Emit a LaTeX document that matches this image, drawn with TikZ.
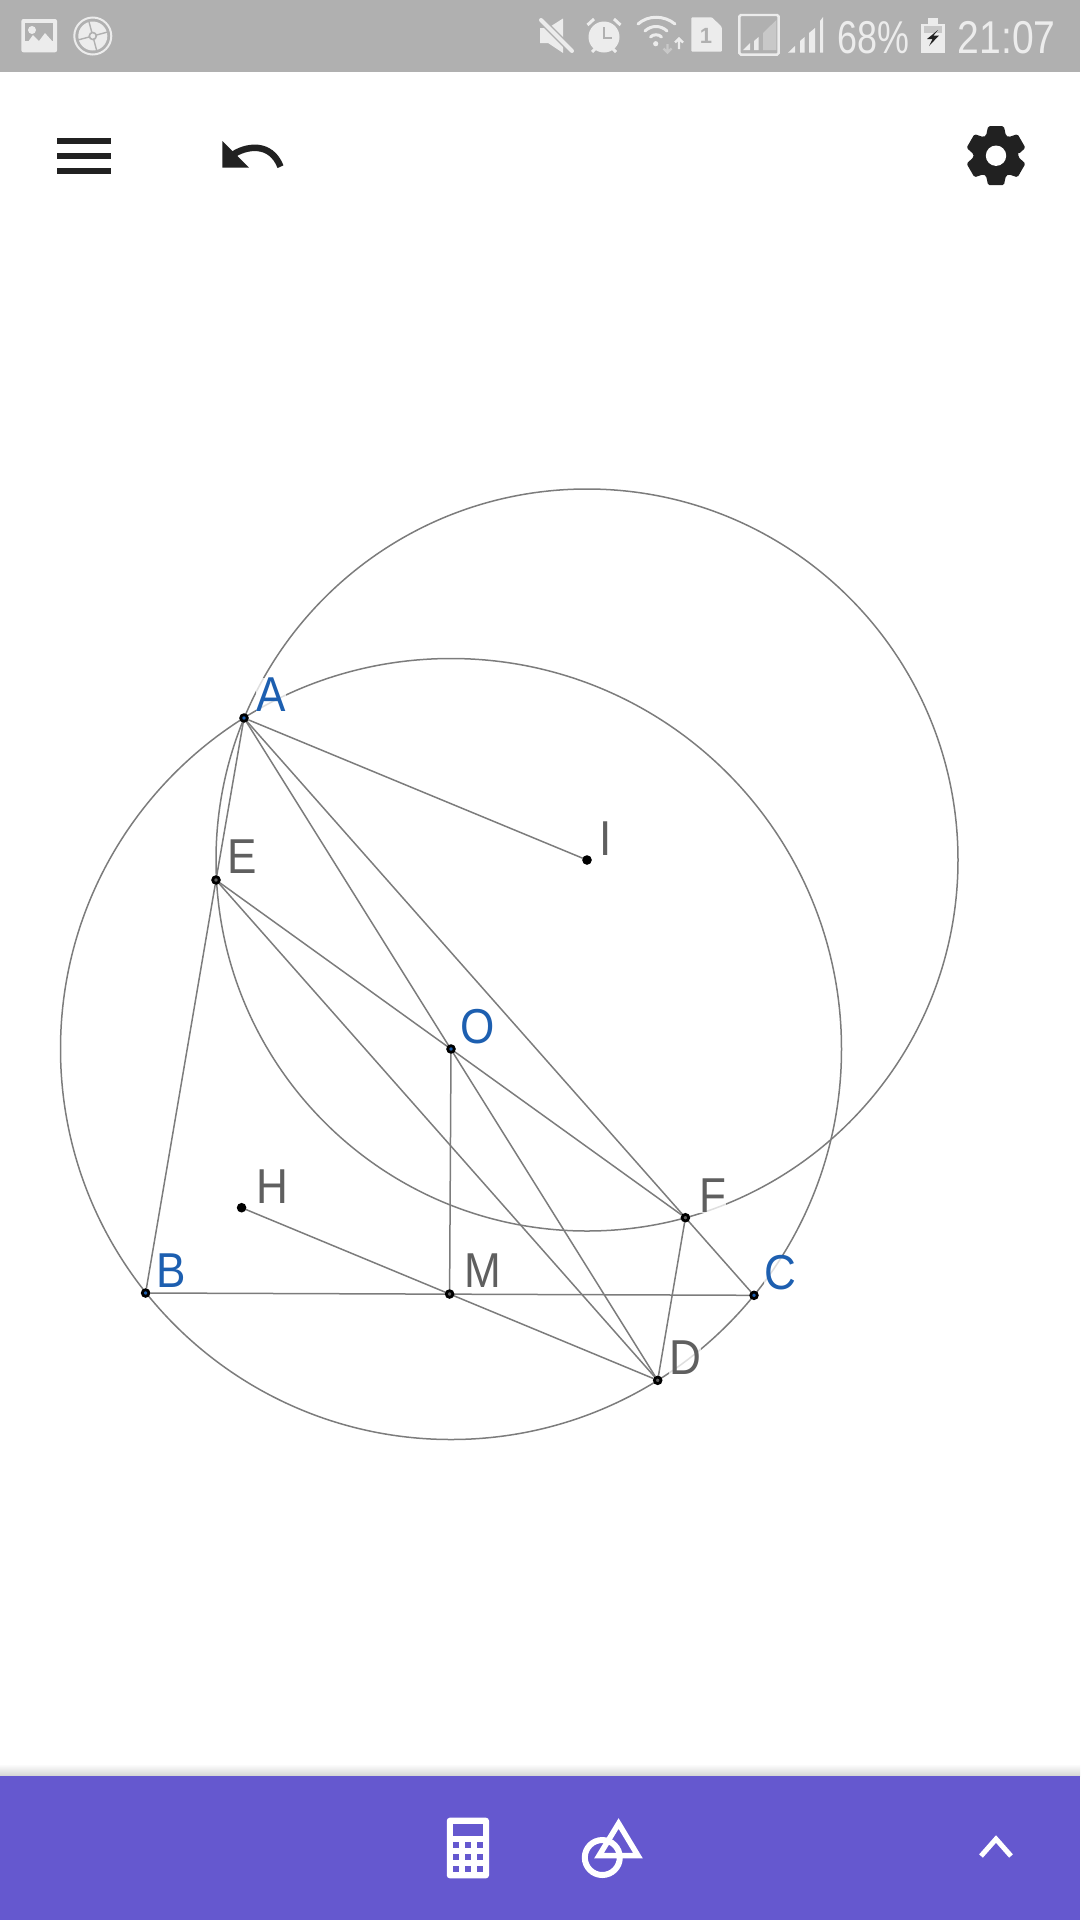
\documentclass[tikz,border=0pt]{standalone}
\usepackage{fontspec}
\setmainfont{Liberation Sans}
\newfontfamily\narrowfont[FakeStretch=0.78]{Liberation Sans}
\newfontfamily\clockfont[FakeStretch=0.85]{Liberation Sans}
\newfontfamily\labelfont[FakeStretch=0.9]{Liberation Sans}
\usetikzlibrary{backgrounds}
\definecolor{barbg}{HTML}{B0B0B0}
\definecolor{barfg}{HTML}{ECECEC}
\definecolor{barmid}{HTML}{C8C8C8}
\definecolor{inkdark}{HTML}{212121}
\definecolor{purplebar}{HTML}{6558CF}
\definecolor{geoline}{HTML}{7C7C7C}
\definecolor{labgray}{HTML}{5F5F5F}
\definecolor{labblue}{HTML}{1D5FB0}
\tikzset{
  pointdot/.style={circle,inner sep=0pt,minimum size=6.6pt,draw=black,line width=2.8pt,fill=#1},
  pointdot/.default={black},
  geo/.style={draw=geoline,line width=1.5pt},
  ptlabel/.style={anchor=base,inner sep=0pt,font=\labelfont\fontsize{49}{49}\selectfont,fill=white,fill opacity=.75,text opacity=1},
  graylabel/.style={ptlabel,text=labgray},
  bluelabel/.style={ptlabel,text=labblue},
  statustext/.style={anchor=base,inner sep=0pt,text=barfg,font=\narrowfont\fontsize{46}{46}\selectfont},
  clocktext/.style={anchor=base,inner sep=0pt,text=barfg,font=\clockfont\fontsize{46}{46}\selectfont},
  barstroke/.style={draw=barfg,line cap=round},
  white icon/.style={draw=white,line width=5.5pt},
}
\begin{document}
\begin{tikzpicture}[x=1pt,y=-1pt]
\useasboundingbox (0,0) rectangle (1080,1920);

% --- bars
\fill[barbg] (0,0) rectangle (1080,72);
\shade[top color=white,bottom color=black!17] (0,1764) rectangle (1080,1776);
\fill[purplebar] (0,1776) rectangle (1080,1920);

% --- status bar, left icons
\fill[barfg,rounded corners=2pt] (21.4,19) rectangle (57,52.3);
\fill[barbg] (25,23) rectangle (53,41);
\fill[barfg] (25,46) -- (33,35) -- (39,41) -- (45,33) -- (53,42) -- (53,48) -- (25,48) -- cycle;
\fill[barfg] (32,30) circle[radius=4pt];
\draw[barfg,line width=2pt] (92.8,36) circle[radius=18.5pt];
\fill[barfg] (92.8,36) circle[radius=14.5pt];
\draw[barbg,line width=1.6pt] (92.8,36) circle[radius=3.5pt];
\foreach \a in {15,105,195,285}
  \draw[barbg,line width=1.4pt] ([shift={(92.8,36)}]\a:3.5pt) -- ([shift={(92.8,36)}]\a:15pt);

% --- status bar, right icons: mute
\fill[barfg] (540,28) -- (548,28) -- (563,18.5) -- (563,53) -- (548,43) -- (540,43) -- cycle;
\draw[barbg,line width=7pt] (541,20) -- (572,51);
\draw[barfg,line width=4pt,line cap=round] (541,20) -- (572,51);
% alarm
\fill[barfg] (604,37) circle[radius=15.5pt];
\draw[barbg,line width=2.2pt] (604,27) -- (604,38) -- (612,38);
\draw[barfg,line width=3pt] (587.5,25) -- (594,19) (614,19) -- (620.5,25) (592,52) -- (595,49) (616,52) -- (613,49);
% wifi
\draw[barstroke,line width=3pt] (638,24) .. controls (648,15) and (664,15) .. (675,24);
\draw[barstroke,line width=3pt] (645,31) .. controls (651,25) and (661,25) .. (667,31);
\draw[barstroke,line width=3pt] (650.5,37) .. controls (653,34) and (659,34) .. (661.5,37);
\fill[barfg] (655.7,43.7) circle[radius=2.6pt];
\draw[barmid,line width=2.2pt] (667.5,44) -- (667.5,52) (663.5,48.5) -- (667.5,52.5) -- (671.5,48.5);
\draw[barfg,line width=2.2pt] (679,49) -- (679,39) (675,42.5) -- (679,38.5) -- (683,42.5);
% sim
\fill[barfg,rounded corners=1pt] (691.4,17.3) -- (712,17.3) -- (721.8,27) -- (721.8,51.7) -- (691.4,51.7) -- cycle;
\node[anchor=base,inner sep=0pt,text=barbg,font=\bfseries\fontsize{22}{22}\selectfont] (simone) at (706,43) {1};
% boxed signal
\draw[barfg,line width=2.4pt,rounded corners=1.5pt] (739.4,15) rectangle (778.6,54.6);
\fill[barfg] (743,50) -- (750,43) -- (750,50) -- cycle;
\fill[barfg] (754,41) -- (758.6,37) -- (758.6,50) -- (754,50) -- cycle;
\fill[barmid] (763,33) -- (776.4,20) -- (776.4,50) -- (763,50) -- cycle;
% signal
\fill[barfg] (788,52.7) -- (795,46) -- (795,52.7) -- cycle;
\fill[barfg] (800,41) -- (804.6,37) -- (804.6,52.7) -- (800,52.7) -- cycle;
\fill[barfg] (809,33) -- (815,28) -- (815,52.7) -- (809,52.7) -- cycle;
\fill[barfg] (820,21) -- (823,17) -- (823,52.7) -- (820,52.7) -- cycle;
\node[statustext] (battext) at (873,53) {68\%};
% battery
\fill[barfg] (928,18) rectangle (938,24);
\fill[barfg] (921,24) rectangle (945,53);
\fill[barmid] (924,26) rectangle (942,33);
\fill[inkdark] (938,30) -- (927,39) -- (932.5,39) -- (929,46) -- (939,35.5) -- (933.5,35.5) -- cycle;
\node[clocktext] (clock) at (1006.6,53) {21:07};

% --- toolbar
\fill[inkdark] (57,137.7) rectangle (111,143.7);
\fill[inkdark] (57,153) rectangle (111,159);
\fill[inkdark] (57,168) rectangle (111,174);
\fill[inkdark] (222.4,141) -- (222.4,167.7) -- (249,167.7) -- cycle;
\draw[inkdark,line width=6.5pt] (231,156) .. controls (246,145) and (271,142) .. (280.5,166.7);
\begin{scope}[shift={(996,155.7)}]
  \fill[inkdark,rounded corners=1.5pt] (4:22.5pt)
    \foreach \a in {30,90,150,210,270,330} { -- (\a-26:22.5pt) -- (\a-15:30.5pt) -- (\a+15:30.5pt) -- (\a+26:22.5pt) } -- cycle;
  \fill[white] (0,0) circle[radius=10.2pt];
\end{scope}

% --- bottom bar icons
\fill[white,rounded corners=3pt] (446.8,1817.7) rectangle (489,1878.3);
\fill[purplebar] (453,1824) rectangle (482.8,1836);
\foreach \cx in {453,465,477} \foreach \cy in {1842,1854,1866}
  \fill[purplebar] (\cx,\cy) rectangle ++(6,6);
\draw[white,line width=6pt] (602.3,1857.5) circle[radius=17.5pt];
\draw[white icon,miter limit=10] (618.6,1823.5) -- (638,1855.7) -- (599,1855.7) -- cycle;
\draw[white,line width=5pt] (981,1856) -- (996,1839) -- (1011,1856);

% --- geometry: points
\node[pointdot=labblue] (A) at (244,718) {};
\node[pointdot=labgray] (E) at (216,880) {};
\node[pointdot=black] (I) at (587,860) {};
\node[pointdot=labblue] (O) at (451,1049) {};
\node[pointdot=black] (H) at (241.6,1207.7) {};
\node[pointdot=labblue] (B) at (145.6,1293) {};
\node[pointdot=labgray] (M) at (449.6,1294) {};
\node[pointdot=labblue] (C) at (754,1295.3) {};
\node[pointdot=labgray] (D) at (657.7,1380.3) {};
\node[pointdot=labgray] (F) at (685.4,1217.7) {};

% --- geometry: labels
\node[bluelabel] (lA) at (271,711.7) {A};
\node[graylabel] (lE) at (242.5,873) {E};
\node[graylabel] (lI) at (606,855) {I};
\node[bluelabel] (lO) at (478,1043) {O};
\node[graylabel] (lH) at (272,1203) {H};
\node[bluelabel] (lB) at (171,1287) {B};
\node[graylabel] (lM) at (482.7,1287) {M};
\node[graylabel] (lF) at (712.6,1212.7) {F};
\node[bluelabel] (lC) at (780,1289.5) {C};
\node[graylabel] (lD) at (685,1374) {D};

% --- geometry: circles and segments, under points and labels
\begin{pgfonlayer}{background}
  \draw[geo] (O.center) circle[radius=390.5pt];
  \draw[geo] (I.center) circle[radius=371pt];
  \draw[geo] (A) -- (I);
  \draw[geo] (A) -- (E);
  \draw[geo] (E) -- (B);
  \draw[geo] (A) -- (D);
  \draw[geo] (A) -- (C);
  \draw[geo] (E) -- (F);
  \draw[geo] (E) -- (D);
  \draw[geo] (O) -- (M);
  \draw[geo] (F) -- (D);
  \draw[geo] (B) -- (C);
  \draw[geo] (H) -- (D);
\end{pgfonlayer}
\end{tikzpicture}
\end{document}
